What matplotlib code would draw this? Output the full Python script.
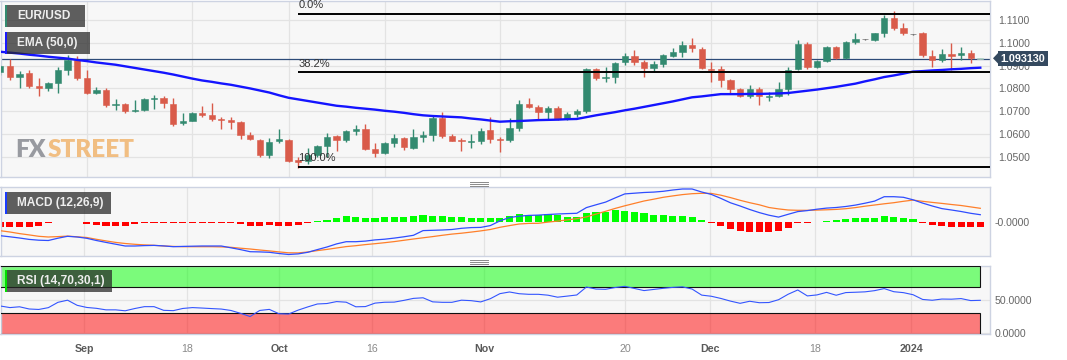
import numpy as np
import pandas as pd
import matplotlib
matplotlib.use("Agg")
import matplotlib.pyplot as plt
from matplotlib.patches import Rectangle, Polygon
from matplotlib.lines import Line2D

plt.rcParams['font.family'] = ['Liberation Sans', 'DejaVu Sans']

# EUR/USD daily candles, 21 Aug 2023 - 10 Jan 2024 (weekdays)
dates = pd.bdate_range("2023-08-21", "2024-01-10")

opens = [1.0874, 1.0898, 1.0848, 1.0866, 1.0811,
         1.0800, 1.0822, 1.0883, 1.0926,
         1.0845,
         1.0782, 1.0795, 1.0726, 1.0731, 1.0700,
         1.0706, 1.0755, 1.0758, 1.0732, 1.0648,
         1.0659, 1.0694, 1.0684, 1.0664, 1.0662,
         1.0652, 1.0596, 1.0574, 1.0508, 1.0570,
         1.0574, 1.0484, 1.0483, 1.0508, 1.0548,
         1.0592, 1.0573, 1.0611, 1.0622, 1.0533,
         1.0516, 1.0562, 1.0582, 1.0540, 1.0586,
         1.0596, 1.0672, 1.0592, 1.0574, 1.0566,
         1.0571, 1.0618,
         1.0579, 1.0574, 1.0625,
         1.0732, 1.0720, 1.0698, 1.0713, 1.0666,
         1.0688, 1.0703, 1.0884, 1.0845, 1.0849,
         1.0918, 1.0943, 1.0915, 1.0889, 1.0907,
         1.0943, 1.0959, 1.0991, 1.0973,
         1.0887,
         1.0884, 1.0837, 1.0796, 1.0767, 1.0796,
         1.0764, 1.0768, 1.0796, 1.0884, 1.0994,
         1.0896, 1.0921, 1.0981, 1.0935, 1.1005,
         1.1016, 1.1013, 1.1045, 1.1108, 1.1067,
         1.1037, 1.1045, 1.0944, 1.0925, 1.0951,
         1.0947, 1.0954, 1.0930]

highs = [1.0905, 1.0929, 1.0877, 1.0880, 1.0844,
         1.0828, 1.0893, 1.0946, 1.0943,
         1.0883,
         1.0806, 1.0801, 1.0752, 1.0736, 1.0749,
         1.0757, 1.0770, 1.0767, 1.0758, 1.0690,
         1.0698, 1.0722, 1.0737, 1.0676, 1.0676,
         1.0659, 1.0610, 1.0579, 1.0582, 1.0622,
         1.0579, 1.0498, 1.0538, 1.0553, 1.0603,
         1.0596, 1.0616, 1.0640, 1.0644, 1.0562,
         1.0565, 1.0600, 1.0586, 1.0621, 1.0611,
         1.0679, 1.0696, 1.0602, 1.0582, 1.0600,
         1.0627, 1.0676,
         1.0585, 1.0669, 1.0749,
         1.0756, 1.0727, 1.0723, 1.0722, 1.0696,
         1.0710, 1.0889, 1.0889, 1.0896, 1.0918,
         1.0957, 1.0969, 1.0925, 1.0921, 1.0951,
         1.0976, 1.1010, 1.1020, 1.0982,
         1.0915,
         1.0899, 1.0840, 1.0803, 1.0815, 1.0808,
         1.0786, 1.0830, 1.0893, 1.1012, 1.1003,
         1.0925, 1.0988, 1.0988, 1.1010, 1.1042,
         1.1019, 1.1045, 1.1122, 1.1140, 1.1086,
         1.1039, 1.1049, 1.0969, 1.0973, 1.0998,
         1.0981, 1.0969, 1.0934]

lows = [1.0860, 1.0836, 1.0804, 1.0804, 1.0768,
        1.0790, 1.0782, 1.0858, 1.0837,
        1.0775,
        1.0775, 1.0718, 1.0706, 1.0690, 1.0695,
        1.0703, 1.0711, 1.0714, 1.0636, 1.0640,
        1.0655, 1.0676, 1.0658, 1.0621, 1.0620,
        1.0580, 1.0572, 1.0498, 1.0494, 1.0560,
        1.0479, 1.0450, 1.0470, 1.0500, 1.0501,
        1.0527, 1.0563, 1.0594, 1.0530, 1.0498,
        1.0512, 1.0545, 1.0530, 1.0535, 1.0567,
        1.0571, 1.0582, 1.0568, 1.0526, 1.0538,
        1.0556, 1.0560,
        1.0520, 1.0567, 1.0615,
        1.0716, 1.0666, 1.0666, 1.0663, 1.0660,
        1.0673, 1.0694, 1.0837, 1.0830, 1.0826,
        1.0903, 1.0903, 1.0852, 1.0878, 1.0896,
        1.0937, 1.0937, 1.0961, 1.0886,
        1.0830,
        1.0805, 1.0782, 1.0763, 1.0757, 1.0728,
        1.0746, 1.0764, 1.0772, 1.0881, 1.0884,
        1.0890, 1.0915, 1.0931, 1.0930, 1.0994,
        1.1013, 1.1009, 1.1027, 1.1057, 1.1035,
        1.1035, 1.0939, 1.0896, 1.0918, 1.0881,
        1.0925, 1.0911, 1.0929]

closes = [1.0900, 1.0848, 1.0863, 1.0812, 1.0800,
          1.0822, 1.0881, 1.0924, 1.0845,
          1.0779,
          1.0795, 1.0727, 1.0731, 1.0699, 1.0704,
          1.0754, 1.0759, 1.0735, 1.0644, 1.0658,
          1.0693, 1.0684, 1.0666, 1.0660, 1.0652,
          1.0596, 1.0580, 1.0508, 1.0567, 1.0577,
          1.0483, 1.0478, 1.0508, 1.0548, 1.0589,
          1.0573, 1.0611, 1.0622, 1.0533, 1.0516,
          1.0562, 1.0582, 1.0542, 1.0586, 1.0596,
          1.0672, 1.0592, 1.0571, 1.0569, 1.0571,
          1.0615, 1.0577,
          1.0573, 1.0625, 1.0732,
          1.0720, 1.0696, 1.0713, 1.0666, 1.0687,
          1.0703, 1.0884, 1.0845, 1.0850, 1.0910,
          1.0943, 1.0915, 1.0889, 1.0907, 1.0947,
          1.0959, 1.0991, 1.0976, 1.0889,
          1.0883,
          1.0837, 1.0798, 1.0767, 1.0796, 1.0767,
          1.0768, 1.0796, 1.0881, 1.0994, 1.0896,
          1.0921, 1.0981, 1.0935, 1.1005, 1.1016,
          1.1016, 1.1042, 1.1108, 1.1067, 1.1045,
          1.1037, 1.0947, 1.0925, 1.0951, 1.0943,
          1.0957, 1.0932, 1.09313]

ema50 = [1.0961, 1.0957, 1.0953, 1.0948, 1.0944, 1.0939, 1.0935, 1.0931, 1.0925,
         1.0920, 1.0914, 1.0909, 1.0904, 1.0897, 1.0890, 1.0883, 1.0876, 1.0869, 1.0861,
         1.0852, 1.0843, 1.0835, 1.0829, 1.0822, 1.0816, 1.0808, 1.0800, 1.0791, 1.0782,
         1.0770, 1.0759, 1.0752, 1.0745, 1.0738, 1.0731, 1.0724, 1.0720, 1.0715, 1.0711,
         1.0707, 1.0702, 1.0698, 1.0693, 1.0687, 1.0682, 1.0679, 1.0677, 1.0675, 1.0673,
         1.0668, 1.0664, 1.0659, 1.0654, 1.0656, 1.0657, 1.0659, 1.0661, 1.0662, 1.0663,
         1.0665, 1.0666, 1.0674, 1.0682, 1.0689, 1.0696, 1.0704, 1.0711, 1.0719, 1.0727,
         1.0735, 1.0743, 1.0752, 1.0761, 1.0765, 1.0770, 1.0775, 1.0775, 1.0775, 1.0776,
         1.0776, 1.0777, 1.0778, 1.0780, 1.0785, 1.0790, 1.0795, 1.0801, 1.0807, 1.0814,
         1.0821, 1.0831, 1.0840, 1.0850, 1.0857, 1.0865, 1.0874, 1.0876, 1.0879, 1.0881,
         1.0884, 1.0886, 1.0889, 1.0891]

# MACD (12,26,9), chart units
macd = [-13.7, -14.8, -16.0, -17.4, -18.2, -18.5, -16.2, -14.3, -15.0,
        -16.3, -18.5, -20.4, -22.2, -24.0, -24.0, -23.6, -23.4, -23.9, -24.7,
        -24.4, -24.2, -24.0, -24.0, -24.0, -25.8, -27.6, -29.7, -29.9, -30.3,
        -31.5, -32.5, -31.9, -30.3, -27.6, -25.0, -21.9, -19.7, -19.7, -19.1,
        -17.9, -17.2, -16.1, -14.8, -13.3, -8.6, -8.3, -8.0, -7.5, -6.3,
        -5.6, -5.4, -3.6, 1.1, 4.5, 5.8, 6.6, 6.9, 7.5, 8.0,
        8.4, 8.7, 14.4, 17.2, 19.9, 24.1, 28.1, 28.8, 29.5, 29.9,
        30.7, 32.0, 33.0, 33.0, 30.0, 27.6, 23.6, 19.2, 16.0, 12.5,
        9.4, 6.8, 4.9, 7.7, 10.4, 11.4, 12.8, 13.9, 14.5, 15.5,
        16.9, 18.8, 20.9, 25.3, 25.3, 24.7, 22.2, 18.9, 16.0, 13.4,
        12.0, 10.5, 8.7, 7.3]
signal = [-8.7, -10.0, -11.6, -12.9, -14.3, -15.0, -14.6, -14.1, -14.8,
          -15.5, -17.3, -18.9, -20.4, -21.5, -22.3, -22.9, -23.3, -24.0, -24.4,
          -24.7, -24.7, -24.7, -24.7, -24.9, -25.3, -26.2, -27.0, -28.0, -28.9,
          -29.9, -30.8, -30.9, -30.0, -28.6, -27.4, -26.0, -24.6, -23.7, -22.6,
          -21.7, -20.7, -19.6, -18.3, -17.0, -15.8, -14.6, -13.3, -12.1, -11.2,
          -10.1, -8.9, -7.5, -5.3, -3.6, -2.0, -1.4, -1.3, -0.1, 0.9,
          2.1, 3.3, 5.1, 7.9, 10.7, 13.6, 16.2, 18.6, 21.0, 22.8,
          24.7, 26.1, 27.4, 28.3, 28.7, 28.6, 26.8, 24.4, 21.7, 19.3,
          17.2, 14.5, 13.1, 12.0, 11.7, 11.7, 11.9, 12.2, 12.6, 13.3,
          14.4, 15.8, 17.0, 18.2, 19.3, 20.7, 21.9, 20.7, 19.6, 18.6,
          17.5, 16.5, 15.1, 13.7]
hist = [-4.7, -4.7, -4.7, -4.7, -4.0, -0.8, 0.4, 0.4, -0.4,
        -2.0, -3.0, -4.0, -4.0, -4.0, -2.0,
        -0.8, -0.8, -0.8, -0.8, -0.8, -0.8, -0.8, -0.8, -0.8, -0.8,
        -2.0, -4.0, -3.7, -3.3, -3.7, -3.7, -2.7, -0.6,
        1.0, 2.0, 4.3, 6.3, 5.3, 4.3, 4.3, 5.0, 4.7, 4.7, 5.7, 7.3,
        6.3, 5.7, 5.0, 4.7, 4.3, 4.0, 3.7, 4.0, 6.3, 7.7, 7.0, 7.5,
        8.0, 6.7, 5.3, 5.3, 8.7, 10.0, 10.3, 11.7, 11.3, 10.3,
        8.7, 7.3, 7.0, 6.3, 6.0, 5.0, 2.0, -1.0, -4.3, -7.0,
        -9.3, -10.0, -10.3, -10.3, -9.3, -6.3, -1.3, -0.7, -0.3, 1.3,
        2.0, 3.0, 3.7, 3.7, 4.0, 5.7, 5.0, 4.0, 2.7, -1.0,
        -3.3, -4.3, -4.7, -4.7, -5.3, -5.3]

# RSI (14)
rsi = [41, 38.6, 39.8, 36.5, 35.8, 38.5, 46.5, 49.7, 42,
       38.8, 37.5, 35.2, 35.2, 33.8, 37.2, 40, 40, 34.5, 34,
       37.3, 38.6, 37.9, 37.1, 36.4, 34.3, 30, 25.2, 34.3, 35.9,
       29.4, 28.9, 34.8, 39.6, 44, 44.7, 47.6, 46.7, 39.8, 40.1,
       45.3, 46.6, 46.8, 49.4, 52.4, 53.3, 47.2, 46.5, 46.5, 49.7,
       49, 47.1, 51.9, 59.5, 62, 59.4, 58.5, 58.5, 57.2, 54.2,
       55.8, 57.5, 69.4, 66.4, 66, 68.7, 70.5, 67.3, 64.1, 65.8,
       67.5, 68.9, 69.7, 66.4, 57.3, 55.6, 52.3, 48.3, 45, 48.1,
       45.9, 46.2, 50.4, 58.6, 65, 56.1, 57.6, 61.4, 57.1, 61.1,
       61.6, 62.2, 64, 67.1, 62.4, 61, 57.9, 50.8, 49.6, 51.4,
       51.2, 52.1, 49.1, 49.5]

fib_high, fib_low = 1.1127, 1.0457
fib_ratios = [0.0, 0.382, 1.0]
fib_start = "2023-10-03"

tick_dates = ["2023-09-01", "2023-09-18", "2023-10-02", "2023-10-16", "2023-11-01",
              "2023-11-20", "2023-12-01", "2023-12-18", "2024-01-01"]
tick_labels = ["Sep", "18", "Oct", "16", "Nov", "20", "Dec", "18", "2024"]
# indicator panes in the source sit slightly left of the price pane
pane_offset = [-0.24, -0.52, -0.95, -1.28, -1.63, 0.04, -0.12, -0.2, -0.21]

# ---------------------------------------------------------------------------
W, H = 1067, 360
GREEN, RED, FLAT, LIVE = "#338a70", "#d95b4a", "#555555", "#a9cbbf"
BG, EDGE, GRID = "#f7f7f7", "#cdd3e2", "#e3e3e3"

o, h, l, c = map(np.array, (opens, highs, lows, closes))
x = np.arange(len(dates)) - 9            # 1 Sep = 0
pos = {d: i for d, i in zip(dates.strftime("%Y-%m-%d"), x)}
main_ticks = [pos[d] for d in tick_dates]
pane_ticks = [t + s for t, s in zip(main_ticks, pane_offset)]
xlim = (-8.98, 94.01)


def rect(left, top, right, bottom):
    return [left / W, 1 - bottom / H, (right - left) / W, (bottom - top) / H]


fig = plt.figure(figsize=(W / 100, H / 100), dpi=100)
ax = fig.add_axes(rect(0.5, 0.7, 990, 177.3))
ax_m = fig.add_axes(rect(0.5, 187.3, 990, 255.7))
ax_r = fig.add_axes(rect(0.5, 265.7, 990, 334))

for a in (ax, ax_m, ax_r):
    a.set_facecolor(BG)
    a.set_xlim(*xlim)
    for s in a.spines.values():
        s.set_color(EDGE)
        s.set_linewidth(1)
    a.yaxis.tick_right()
    a.tick_params(length=0, colors="#666666", labelsize=7.6)
    a.set_axisbelow(True)

# price pane -----------------------------------------------------------------
ax.set_ylim(1.0410, 1.1185)
ax.set_yticks(np.arange(1.05, 1.1101, 0.01))
ax.set_yticklabels([f"{v:.4f}" for v in np.arange(1.05, 1.1101, 0.01)])
ax.tick_params(axis="y", pad=6)
ax.set_xticks(main_ticks)
ax.tick_params(axis="x", labelbottom=False)
ax.grid(True, color=GRID, lw=0.9)

cols = np.where(c > o, GREEN, np.where(c < o, RED, FLAT)).astype(object)
cols[-1] = LIVE
body_lo = np.minimum(o, c)
body_h = np.maximum(np.abs(c - o), 0.00025)
ax.vlines(x, l, h, colors=cols, lw=1.0, zorder=3)
ax.bar(x, body_h, bottom=body_lo, width=0.66, color=cols, edgecolor=cols,
       lw=0.4, zorder=4)
ax.plot(x, ema50, color="#1414ff", lw=1.7, zorder=5)
ax.axhline(c[-1], color="#2d4b78", lw=0.9, zorder=2)

x0 = pos[fib_start]
for r in fib_ratios:
    lvl = fib_high - r * (fib_high - fib_low)
    ax.hlines(lvl, x0, xlim[1], color="black", lw=1.4, zorder=6)
    ax.annotate(f"{r * 100:.1f}%", (x0, lvl), xytext=(0, 2.5), textcoords="offset points",
                fontsize=8, color="#333333", va="bottom", ha="left", zorder=7)

# watermark
wm_font = ["Lato", "DejaVu Sans"]
fx_txt = ax.text(15 / 990, 1 - 156.7 / 176.6, "FX", transform=ax.transAxes,
                 family=wm_font, fontweight="heavy", fontsize=17.5,
                 color="#8e9097", alpha=0.9, va="baseline", zorder=1)
fig.canvas.draw()
bb = fx_txt.get_window_extent()
ax.text(bb.x1 / 990 + 1 / 990, 1 - 156.7 / 176.6, "STREET", transform=ax.transAxes,
        family=wm_font, fontweight="heavy", fontsize=17.5, color="#f0b46e",
        alpha=0.85, va="baseline", zorder=1)

# MACD pane ------------------------------------------------------------------
ax_m.set_ylim(-33.7, 34.7)
ax_m.set_yticks([0])
ax_m.set_yticklabels(["-0.0000"])
ax_m.tick_params(axis="y", pad=3)
ax_m.set_xticks(pane_ticks)
ax_m.tick_params(axis="x", labelbottom=False)
ax_m.grid(True, axis="x", color=GRID, lw=0.9)
hv = np.array(hist)
ax_m.bar(x, hv, width=0.74, color=np.where(hv >= 0, "#00ff00", "#ff0000"), zorder=2)
ax_m.plot(x, signal, color="#ff7f2a", lw=0.9, zorder=3)
ax_m.plot(x, macd, color="#2f4dff", lw=0.9, zorder=4)

# RSI pane -------------------------------------------------------------------
ax_r.set_ylim(-1, 101.4)
ax_r.set_yticks([0, 50])
ax_r.set_yticklabels(["0.0000", "50.0000"])
ax_r.tick_params(axis="y", pad=3)
ax_r.grid(True, color=GRID, lw=0.9)
ax_r.add_patch(Rectangle((xlim[0], 70), x[-1] - xlim[0], 31.4, facecolor="#00ff00",
                         alpha=0.5, edgecolor="none", zorder=2))
ax_r.add_patch(Rectangle((xlim[0], -1), x[-1] - xlim[0], 31, facecolor="#ff0000",
                         alpha=0.5, edgecolor="none", zorder=2))
for lo, hi in ((70, 101.4), (-1, 30)):
    ax_r.add_patch(Rectangle((xlim[0], lo), x[-1] - xlim[0], hi - lo, fill=False,
                             edgecolor="#111111", lw=0.8, zorder=3))
ax_r.plot(x, rsi, color="#3355ff", lw=0.8, zorder=4)
ax_r.set_xticks(pane_ticks)
ax_r.set_xticklabels(tick_labels)
ax_r.tick_params(axis="x", pad=7, labelsize=7.7)
for t, lab in zip(ax_r.get_xticklabels(), tick_labels):
    if lab.isdigit() and len(lab) < 4:
        t.set_color("#8a8a8a")
    else:
        t.set_fontweight("bold")
        t.set_color("#5a5a5a")


# legend tags and overlays (figure pixels) -----------------------------------
def fig_rect(left, top, right, bottom, **kw):
    fig.add_artist(Rectangle((left / W, 1 - bottom / H), (right - left) / W,
                             (bottom - top) / H, transform=fig.transFigure, **kw))


tags = [("EUR/USD", 5, 26.7, 85, GREEN),
        ("EMA (50,0)", 32.3, 54, 90, "#1a1aff"),
        ("MACD (12,26,9)", 192, 214, 111, "#1a3cff"),
        ("RSI (14,70,30,1)", 270, 291.7, 112, "#00e000")]
for text, top, bottom, right, stripe in tags:
    fig_rect(5, top, right, bottom, facecolor="#262626", alpha=0.73, lw=0, zorder=10)
    fig_rect(5, top, 7.3, bottom, facecolor=stripe, lw=0, zorder=11)
    fig.text(17 / W, 1 - (top + bottom) / 2 / H, text, color="#eeeeee", fontsize=8.6,
             fontweight="bold", va="center", ha="left", zorder=12)

# last price tag
fig_rect(998, 50.7, 1048, 66, facecolor="#34495f", lw=0, zorder=10)
fig.add_artist(Polygon([(993 / W, 1 - 58.3 / H), (998.5 / W, 1 - 52.5 / H),
                        (998.5 / W, 1 - 64 / H)], closed=True, transform=fig.transFigure,
                       facecolor="#34495f", lw=0, zorder=10))
fig.text(1023 / W, 1 - 58.6 / H, f"{c[-1]:.6f}", color="white", fontsize=7.8,
         fontweight="bold", va="center", ha="center", zorder=12)

# pane resize handles
for yy in (182, 184, 186, 259.5, 261.5, 263.5):
    fig.add_artist(Line2D([470 / W, 488 / W], [1 - yy / H] * 2, color="#8a8a8a", lw=0.7))

fig.savefig("out.png", dpi=100, facecolor="white")
